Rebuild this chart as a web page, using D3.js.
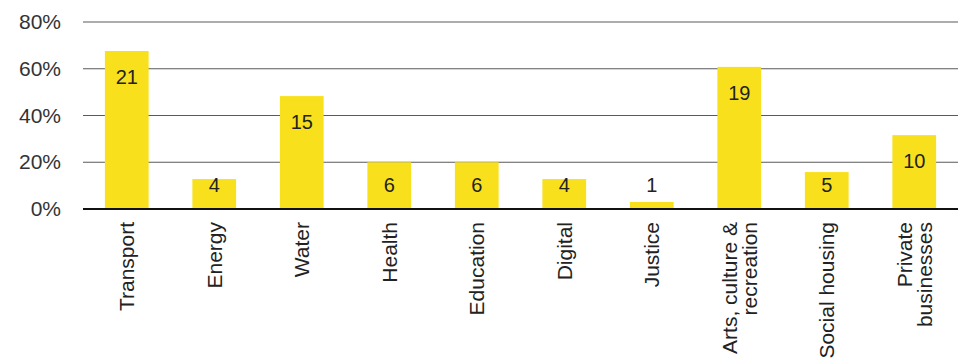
<!DOCTYPE html>
<html>
<head>
<meta charset="utf-8">
<script src="https://cdn.jsdelivr.net/npm/d3@7"></script>
<style>
  body { margin: 0; background: #fff; }
  text { font-family: "Liberation Sans", Arial, sans-serif; }
</style>
</head>
<body>
<script>
// sectors, with label lines as they wrap in the picture
let categories = ["Transport", "Energy", "Water", "Health", "Education", "Digital", "Justice", "Arts, culture & recreation", "Social housing", "Private businesses"]
let labelLines = [["Transport"], ["Energy"], ["Water"], ["Health"], ["Education"], ["Digital"], ["Justice"], ["Arts, culture &", "recreation"], ["Social housing"], ["Private", "businesses"]]
// share of projects (%) and number of projects
let shares = [67.6, 12.8, 48.3, 20, 20, 12.8, 3, 60.8, 15.8, 31.6]
let counts = [21, 4, 15, 6, 6, 4, 1, 19, 5, 10]
let yTicks = [0, 20, 40, 60, 80]

let width = 966
let height = 358
let margin = ({top: 22, right: 8, bottom: 149, left: 83})

let x = d3.scaleBand()
  .domain(categories)
  .range([margin.left, width - margin.right])
  .paddingInner(0.5)
  .paddingOuter(0.25)

let y = d3.scaleLinear()
  .domain([0, 80])
  .range([height - margin.bottom, margin.top])

let svg = d3.select("body").append("svg")
  .attr("width", width)
  .attr("height", height)

svg.append("rect").attr("width", width).attr("height", height).attr("fill", "#fff")

// gridlines
svg.append("g")
  .selectAll("line")
  .data(yTicks.filter(d => d > 0))
  .join("line")
  .attr("x1", margin.left)
  .attr("x2", width - margin.right)
  .attr("y1", d => y(d))
  .attr("y2", d => y(d))
  .attr("stroke", "#5a5a5a")
  .attr("stroke-width", 1.2)

// y axis labels
let yAxis = svg.append("g")
  .attr("transform", `translate(${margin.left - 22},0)`)
  .call(d3.axisLeft(y).tickValues(yTicks).tickFormat(d => d + "%").tickSize(0).tickPadding(0))
yAxis.select(".domain").remove()
yAxis.selectAll("text")
  .attr("font-size", 21)
  .attr("fill", "#333")
  .style("font-family", "'Liberation Sans', Arial, sans-serif")

// bars
svg.append("g")
  .selectAll("rect")
  .data(categories)
  .join("rect")
  .attr("x", d => x(d))
  .attr("width", x.bandwidth())
  .attr("y", (d, i) => y(shares[i]))
  .attr("height", (d, i) => y(0) - y(shares[i]))
  .attr("fill", "#f8e11c")

// baseline
svg.append("line")
  .attr("x1", margin.left)
  .attr("x2", width - margin.right)
  .attr("y1", y(0))
  .attr("y2", y(0))
  .attr("stroke", "#111")
  .attr("stroke-width", 2.2)

// value labels
svg.append("g")
  .selectAll("text")
  .data(categories)
  .join("text")
  .attr("x", d => x(d) + x.bandwidth() / 2)
  .attr("y", (d, i) => Math.min(y(shares[i]) + 26, y(0) - 24))
  .attr("dy", "0.36em")
  .attr("text-anchor", "middle")
  .attr("font-size", 20)
  .attr("fill", "#222")
  .text((d, i) => counts[i])

// rotated category labels
let cat = svg.append("g")
  .selectAll("g")
  .data(categories)
  .join("g")
  .attr("transform", d => `translate(${x(d) + x.bandwidth() / 2},${y(0) + 13})`)

cat.each(function(d, i) {
  let lines = labelLines[i]
  d3.select(this).selectAll("text")
    .data(lines)
    .join("text")
    .attr("transform", (t, j) => `translate(${(j - (lines.length - 1) / 2) * 20},0) rotate(-90)`)
    .attr("dy", "0.36em")
    .attr("text-anchor", "end")
    .attr("font-size", 21)
    .attr("fill", "#222")
    .text(t => t)
})
</script>
</body>
</html>
